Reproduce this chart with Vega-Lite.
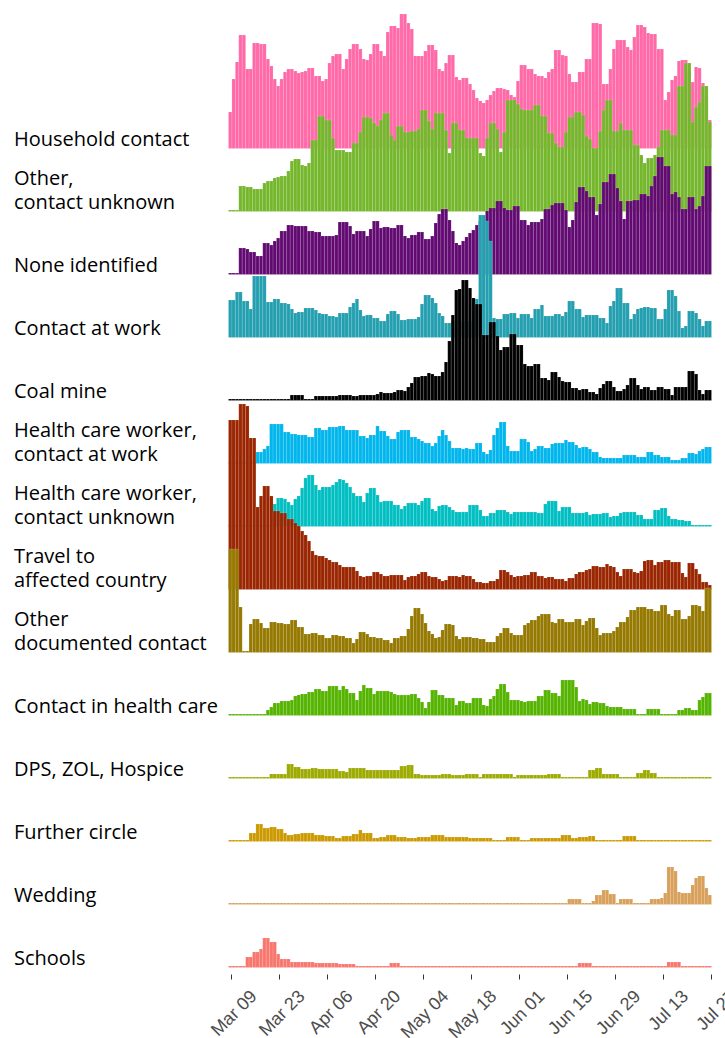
{
"$schema": "https://vega.github.io/schema/vega-lite/v6.json",
"padding": {"left": 14, "top": 13, "right": 10, "bottom": 0},
"datasets": {
"labels": [
{"k":"a","label":"Household contact"},
{"k":"b","label":"Other,\ncontact unknown"},
{"k":"c","label":"None identified"},
{"k":"d","label":"Contact at work"},
{"k":"e","label":"Coal mine"},
{"k":"f","label":"Health care worker,\ncontact at work"},
{"k":"g","label":"Health care worker,\ncontact unknown"},
{"k":"h","label":"Travel to\naffected country"},
{"k":"i","label":"Other\ndocumented contact"},
{"k":"j","label":"Contact in health care"},
{"k":"k","label":"DPS, ZOL, Hospice"},
{"k":"l","label":"Further circle"},
{"k":"m","label":"Wedding"},
{"k":"n","label":"Schools"}
],
"daily": [
{"date":"2020-03-08","a":35,"b":0,"c":0,"d":36,"e":0,"f":0,"g":0,"h":168,"i":102,"j":0,"k":0,"l":0,"m":0,"n":0},
{"date":"2020-03-09","a":68,"b":0,"c":0,"d":36,"e":0,"f":0,"g":0,"h":168,"i":102,"j":0,"k":0,"l":0,"m":0,"n":0},
{"date":"2020-03-10","a":85,"b":0,"c":0,"d":44,"e":0,"f":0,"g":0,"h":168,"i":102,"j":0,"k":0,"l":0,"m":0,"n":0},
{"date":"2020-03-11","a":112,"b":24,"c":25,"d":44,"e":0,"f":0,"g":0,"h":184,"i":44,"j":0,"k":0,"l":0,"m":0,"n":0},
{"date":"2020-03-12","a":112,"b":24,"c":25,"d":35,"e":0,"f":0,"g":0,"h":184,"i":0,"j":0,"k":0,"l":0,"m":0,"n":0},
{"date":"2020-03-13","a":78,"b":23,"c":24,"d":35,"e":0,"f":0,"g":0,"h":182,"i":0,"j":0,"k":0,"l":0,"m":0,"n":9},
{"date":"2020-03-14","a":78,"b":23,"c":21,"d":27,"e":0,"f":0,"g":0,"h":150,"i":27,"j":0,"k":0,"l":7,"m":0,"n":9},
{"date":"2020-03-15","a":104,"b":21,"c":21,"d":60,"e":0,"f":0,"g":0,"h":150,"i":32,"j":0,"k":0,"l":7,"m":0,"n":14},
{"date":"2020-03-16","a":104,"b":21,"c":17,"d":60,"e":0,"f":10,"g":0,"h":81,"i":32,"j":0,"k":0,"l":16,"m":0,"n":14},
{"date":"2020-03-17","a":103,"b":21,"c":17,"d":60,"e":0,"f":10,"g":0,"h":92,"i":28,"j":0,"k":0,"l":16,"m":0,"n":17},
{"date":"2020-03-18","a":103,"b":27,"c":30,"d":60,"e":0,"f":13,"g":0,"h":102,"i":23,"j":0,"k":0,"l":12,"m":0,"n":28},
{"date":"2020-03-19","a":88,"b":29,"c":30,"d":34,"e":0,"f":16,"g":0,"h":102,"i":23,"j":4,"k":0,"l":12,"m":0,"n":28},
{"date":"2020-03-20","a":81,"b":29,"c":28,"d":34,"e":0,"f":38,"g":0,"h":92,"i":29,"j":7,"k":3,"l":13,"m":0,"n":24},
{"date":"2020-03-21","a":68,"b":32,"c":32,"d":37,"e":0,"f":38,"g":21,"h":77,"i":29,"j":11,"k":3,"l":13,"m":0,"n":24},
{"date":"2020-03-22","a":61,"b":33,"c":35,"d":37,"e":0,"f":38,"g":27,"h":77,"i":28,"j":11,"k":3,"l":11,"m":0,"n":12},
{"date":"2020-03-23","a":68,"b":34,"c":42,"d":33,"e":0,"f":38,"g":27,"h":75,"i":28,"j":13,"k":3,"l":11,"m":0,"n":7},
{"date":"2020-03-24","a":75,"b":34,"c":42,"d":33,"e":0,"f":30,"g":26,"h":75,"i":27,"j":13,"k":3,"l":7,"m":0,"n":7},
{"date":"2020-03-25","a":78,"b":39,"c":48,"d":32,"e":0,"f":30,"g":23,"h":69,"i":27,"j":13,"k":13,"l":5,"m":0,"n":7},
{"date":"2020-03-26","a":78,"b":49,"c":48,"d":27,"e":4,"f":28,"g":20,"h":69,"i":31,"j":14,"k":13,"l":5,"m":0,"n":4},
{"date":"2020-03-27","a":76,"b":51,"c":47,"d":23,"e":4,"f":28,"g":26,"h":65,"i":31,"j":18,"k":10,"l":6,"m":0,"n":4},
{"date":"2020-03-28","a":74,"b":51,"c":47,"d":24,"e":4,"f":27,"g":29,"h":62,"i":24,"j":19,"k":10,"l":6,"m":0,"n":4},
{"date":"2020-03-29","a":75,"b":45,"c":47,"d":24,"e":4,"f":27,"g":37,"h":57,"i":24,"j":20,"k":8,"l":7,"m":0,"n":4},
{"date":"2020-03-30","a":76,"b":44,"c":47,"d":28,"e":0,"f":27,"g":47,"h":53,"i":17,"j":20,"k":8,"l":7,"m":0,"n":4},
{"date":"2020-03-31","a":79,"b":47,"c":42,"d":28,"e":0,"f":25,"g":50,"h":47,"i":17,"j":22,"k":8,"l":7,"m":0,"n":4},
{"date":"2020-04-01","a":79,"b":70,"c":42,"d":28,"e":0,"f":25,"g":50,"h":37,"i":18,"j":22,"k":9,"l":7,"m":0,"n":4},
{"date":"2020-04-02","a":71,"b":70,"c":41,"d":26,"e":3,"f":34,"g":40,"h":33,"i":18,"j":25,"k":9,"l":5,"m":0,"n":3},
{"date":"2020-04-03","a":71,"b":94,"c":41,"d":23,"e":3,"f":34,"g":35,"h":32,"i":16,"j":25,"k":8,"l":5,"m":0,"n":3},
{"date":"2020-04-04","a":66,"b":94,"c":37,"d":22,"e":3,"f":32,"g":38,"h":32,"i":16,"j":23,"k":8,"l":5,"m":0,"n":3},
{"date":"2020-04-05","a":68,"b":90,"c":37,"d":22,"e":3,"f":32,"g":38,"h":30,"i":13,"j":23,"k":8,"l":4,"m":0,"n":3},
{"date":"2020-04-06","a":84,"b":90,"c":37,"d":20,"e":3,"f":35,"g":38,"h":28,"i":13,"j":28,"k":8,"l":4,"m":0,"n":3},
{"date":"2020-04-07","a":91,"b":72,"c":37,"d":20,"e":3,"f":35,"g":40,"h":26,"i":16,"j":28,"k":8,"l":4,"m":0,"n":3},
{"date":"2020-04-08","a":93,"b":60,"c":38,"d":19,"e":3,"f":35,"g":43,"h":26,"i":16,"j":28,"k":8,"l":2,"m":0,"n":3},
{"date":"2020-04-09","a":93,"b":60,"c":51,"d":23,"e":4,"f":36,"g":46,"h":23,"i":15,"j":24,"k":6,"l":2,"m":0,"n":2},
{"date":"2020-04-10","a":78,"b":60,"c":51,"d":23,"e":4,"f":36,"g":45,"h":21,"i":15,"j":28,"k":6,"l":4,"m":0,"n":2},
{"date":"2020-04-11","a":88,"b":58,"c":51,"d":23,"e":4,"f":32,"g":42,"h":21,"i":13,"j":25,"k":5,"l":4,"m":0,"n":2},
{"date":"2020-04-12","a":98,"b":58,"c":47,"d":29,"e":4,"f":32,"g":38,"h":21,"i":13,"j":21,"k":9,"l":4,"m":0,"n":2},
{"date":"2020-04-13","a":103,"b":67,"c":39,"d":33,"e":3,"f":32,"g":32,"h":21,"i":8,"j":21,"k":9,"l":6,"m":0,"n":2},
{"date":"2020-04-14","a":103,"b":67,"c":42,"d":37,"e":3,"f":32,"g":29,"h":17,"i":12,"j":14,"k":9,"l":6,"m":0,"n":0},
{"date":"2020-04-15","a":98,"b":78,"c":42,"d":26,"e":4,"f":26,"g":29,"h":12,"i":19,"j":23,"k":9,"l":10,"m":0,"n":0},
{"date":"2020-04-16","a":88,"b":93,"c":42,"d":20,"e":4,"f":26,"g":23,"h":11,"i":19,"j":29,"k":9,"l":7,"m":0,"n":0},
{"date":"2020-04-17","a":87,"b":93,"c":37,"d":21,"e":4,"f":24,"g":32,"h":12,"i":17,"j":26,"k":7,"l":7,"m":0,"n":0},
{"date":"2020-04-18","a":93,"b":92,"c":44,"d":21,"e":4,"f":27,"g":37,"h":12,"i":14,"j":26,"k":7,"l":7,"m":0,"n":0},
{"date":"2020-04-19","a":103,"b":87,"c":52,"d":18,"e":4,"f":27,"g":37,"h":16,"i":14,"j":20,"k":7,"l":2,"m":0,"n":0},
{"date":"2020-04-20","a":103,"b":84,"c":52,"d":18,"e":5,"f":36,"g":30,"h":16,"i":13,"j":23,"k":7,"l":2,"m":0,"n":0},
{"date":"2020-04-21","a":96,"b":90,"c":45,"d":15,"e":7,"f":31,"g":23,"h":14,"i":13,"j":23,"k":7,"l":3,"m":0,"n":0},
{"date":"2020-04-22","a":91,"b":97,"c":46,"d":15,"e":6,"f":31,"g":24,"h":12,"i":11,"j":23,"k":7,"l":3,"m":0,"n":0},
{"date":"2020-04-23","a":115,"b":97,"c":46,"d":22,"e":6,"f":26,"g":24,"h":12,"i":11,"j":23,"k":7,"l":5,"m":0,"n":0},
{"date":"2020-04-24","a":121,"b":75,"c":45,"d":25,"e":6,"f":23,"g":24,"h":13,"i":8,"j":22,"k":7,"l":5,"m":0,"n":3},
{"date":"2020-04-25","a":121,"b":70,"c":45,"d":25,"e":7,"f":23,"g":20,"h":13,"i":13,"j":20,"k":7,"l":5,"m":0,"n":3},
{"date":"2020-04-26","a":119,"b":84,"c":48,"d":22,"e":9,"f":30,"g":20,"h":13,"i":13,"j":19,"k":7,"l":3,"m":0,"n":3},
{"date":"2020-04-27","a":133,"b":84,"c":48,"d":16,"e":9,"f":32,"g":16,"h":13,"i":15,"j":19,"k":11,"l":3,"m":0,"n":0},
{"date":"2020-04-28","a":133,"b":78,"c":37,"d":16,"e":8,"f":32,"g":19,"h":8,"i":15,"j":19,"k":11,"l":3,"m":0,"n":0},
{"date":"2020-04-29","a":124,"b":78,"c":35,"d":17,"e":12,"f":32,"g":22,"h":11,"i":22,"j":19,"k":12,"l":2,"m":0,"n":0},
{"date":"2020-04-30","a":118,"b":79,"c":38,"d":17,"e":16,"f":25,"g":22,"h":12,"i":35,"j":20,"k":12,"l":2,"m":0,"n":0},
{"date":"2020-05-01","a":91,"b":79,"c":38,"d":17,"e":22,"f":25,"g":22,"h":12,"i":43,"j":20,"k":3,"l":2,"m":0,"n":0},
{"date":"2020-05-02","a":91,"b":81,"c":41,"d":19,"e":22,"f":23,"g":20,"h":14,"i":43,"j":16,"k":3,"l":3,"m":0,"n":0},
{"date":"2020-05-03","a":91,"b":100,"c":41,"d":32,"e":23,"f":21,"g":24,"h":16,"i":37,"j":12,"k":2,"l":3,"m":0,"n":0},
{"date":"2020-05-04","a":96,"b":100,"c":34,"d":41,"e":23,"f":19,"g":27,"h":16,"i":28,"j":6,"k":2,"l":3,"m":0,"n":0},
{"date":"2020-05-05","a":102,"b":89,"c":34,"d":41,"e":26,"f":19,"g":27,"h":12,"i":20,"j":12,"k":2,"l":3,"m":0,"n":0},
{"date":"2020-05-06","a":102,"b":81,"c":37,"d":38,"e":25,"f":16,"g":16,"h":11,"i":17,"j":24,"k":2,"l":5,"m":0,"n":0},
{"date":"2020-05-07","a":97,"b":97,"c":50,"d":33,"e":23,"f":19,"g":14,"h":11,"i":13,"j":24,"k":2,"l":5,"m":0,"n":0},
{"date":"2020-05-08","a":78,"b":97,"c":59,"d":23,"e":23,"f":26,"g":19,"h":9,"i":14,"j":19,"k":2,"l":5,"m":0,"n":0},
{"date":"2020-05-09","a":76,"b":97,"c":64,"d":20,"e":27,"f":32,"g":20,"h":7,"i":21,"j":19,"k":3,"l":5,"m":0,"n":0},
{"date":"2020-05-10","a":84,"b":80,"c":64,"d":13,"e":37,"f":27,"g":20,"h":8,"i":27,"j":16,"k":3,"l":3,"m":0,"n":0},
{"date":"2020-05-11","a":92,"b":57,"c":53,"d":13,"e":58,"f":21,"g":18,"h":12,"i":27,"j":16,"k":3,"l":3,"m":0,"n":0},
{"date":"2020-05-12","a":92,"b":87,"c":42,"d":15,"e":84,"f":14,"g":15,"h":12,"i":26,"j":16,"k":2,"l":3,"m":0,"n":0},
{"date":"2020-05-13","a":70,"b":87,"c":30,"d":15,"e":109,"f":14,"g":13,"h":12,"i":15,"j":9,"k":2,"l":3,"m":0,"n":0},
{"date":"2020-05-14","a":67,"b":80,"c":28,"d":15,"e":110,"f":14,"g":13,"h":11,"i":12,"j":13,"k":2,"l":3,"m":0,"n":0},
{"date":"2020-05-15","a":69,"b":80,"c":32,"d":15,"e":119,"f":13,"g":13,"h":13,"i":14,"j":13,"k":2,"l":3,"m":0,"n":0},
{"date":"2020-05-16","a":69,"b":72,"c":36,"d":15,"e":119,"f":14,"g":13,"h":12,"i":14,"j":11,"k":3,"l":3,"m":0,"n":0},
{"date":"2020-05-17","a":63,"b":72,"c":40,"d":15,"e":111,"f":13,"g":20,"h":12,"i":14,"j":11,"k":3,"l":2,"m":0,"n":0},
{"date":"2020-05-18","a":57,"b":72,"c":43,"d":15,"e":101,"f":13,"g":20,"h":9,"i":13,"j":16,"k":3,"l":2,"m":0,"n":0},
{"date":"2020-05-19","a":49,"b":72,"c":48,"d":37,"e":95,"f":19,"g":20,"h":6,"i":13,"j":16,"k":3,"l":2,"m":0,"n":0},
{"date":"2020-05-20","a":46,"b":57,"c":52,"d":121,"e":95,"f":19,"g":15,"h":6,"i":12,"j":16,"k":0,"l":2,"m":0,"n":0},
{"date":"2020-05-21","a":44,"b":54,"c":58,"d":121,"e":64,"f":10,"g":9,"h":5,"i":12,"j":9,"k":3,"l":2,"m":0,"n":0},
{"date":"2020-05-22","a":47,"b":72,"c":62,"d":115,"e":64,"f":8,"g":9,"h":5,"i":9,"j":8,"k":3,"l":2,"m":0,"n":0},
{"date":"2020-05-23","a":52,"b":87,"c":65,"d":95,"e":77,"f":12,"g":12,"h":7,"i":9,"j":15,"k":3,"l":2,"m":0,"n":0},
{"date":"2020-05-24","a":56,"b":87,"c":65,"d":18,"e":77,"f":27,"g":12,"h":7,"i":9,"j":18,"k":3,"l":0,"m":0,"n":0},
{"date":"2020-05-25","a":59,"b":81,"c":72,"d":17,"e":63,"f":34,"g":15,"h":9,"i":15,"j":25,"k":3,"l":0,"m":0,"n":0},
{"date":"2020-05-26","a":59,"b":58,"c":72,"d":17,"e":49,"f":40,"g":15,"h":18,"i":18,"j":30,"k":3,"l":0,"m":0,"n":0},
{"date":"2020-05-27","a":58,"b":78,"c":65,"d":22,"e":52,"f":40,"g":15,"h":18,"i":23,"j":30,"k":3,"l":0,"m":0,"n":0},
{"date":"2020-05-28","a":57,"b":110,"c":63,"d":22,"e":52,"f":16,"g":13,"h":16,"i":23,"j":22,"k":3,"l":3,"m":0,"n":0},
{"date":"2020-05-29","a":52,"b":110,"c":63,"d":23,"e":65,"f":11,"g":11,"h":13,"i":18,"j":14,"k":3,"l":3,"m":0,"n":0},
{"date":"2020-05-30","a":50,"b":110,"c":67,"d":23,"e":65,"f":11,"g":13,"h":11,"i":16,"j":14,"k":0,"l":3,"m":0,"n":0},
{"date":"2020-05-31","a":66,"b":106,"c":67,"d":18,"e":54,"f":11,"g":13,"h":12,"i":16,"j":14,"k":2,"l":3,"m":0,"n":0},
{"date":"2020-06-01","a":82,"b":101,"c":53,"d":22,"e":54,"f":23,"g":13,"h":12,"i":16,"j":13,"k":2,"l":0,"m":0,"n":0},
{"date":"2020-06-02","a":82,"b":100,"c":53,"d":22,"e":35,"f":23,"g":13,"h":13,"i":26,"j":12,"k":2,"l":0,"m":0,"n":0},
{"date":"2020-06-03","a":78,"b":100,"c":48,"d":22,"e":33,"f":20,"g":13,"h":13,"i":28,"j":13,"k":2,"l":0,"m":0,"n":0},
{"date":"2020-06-04","a":78,"b":100,"c":51,"d":18,"e":33,"f":11,"g":13,"h":16,"i":31,"j":13,"k":2,"l":2,"m":0,"n":0},
{"date":"2020-06-05","a":73,"b":105,"c":51,"d":27,"e":35,"f":13,"g":13,"h":16,"i":31,"j":13,"k":2,"l":2,"m":0,"n":0},
{"date":"2020-06-06","a":71,"b":105,"c":51,"d":27,"e":35,"f":16,"g":12,"h":12,"i":35,"j":18,"k":2,"l":2,"m":0,"n":0},
{"date":"2020-06-07","a":71,"b":94,"c":54,"d":31,"e":21,"f":16,"g":12,"h":12,"i":37,"j":18,"k":2,"l":2,"m":0,"n":0},
{"date":"2020-06-08","a":69,"b":94,"c":64,"d":20,"e":21,"f":14,"g":21,"h":10,"i":37,"j":24,"k":2,"l":2,"m":0,"n":0},
{"date":"2020-06-09","a":75,"b":77,"c":64,"d":20,"e":19,"f":14,"g":24,"h":11,"i":37,"j":24,"k":3,"l":2,"m":0,"n":0},
{"date":"2020-06-10","a":78,"b":77,"c":68,"d":20,"e":27,"f":18,"g":24,"h":11,"i":29,"j":21,"k":3,"l":2,"m":0,"n":0},
{"date":"2020-06-11","a":97,"b":67,"c":70,"d":22,"e":27,"f":19,"g":24,"h":9,"i":28,"j":21,"k":3,"l":2,"m":0,"n":0},
{"date":"2020-06-12","a":97,"b":63,"c":70,"d":22,"e":22,"f":19,"g":14,"h":9,"i":32,"j":18,"k":3,"l":2,"m":0,"n":0},
{"date":"2020-06-13","a":92,"b":63,"c":70,"d":20,"e":18,"f":19,"g":18,"h":9,"i":32,"j":34,"k":0,"l":5,"m":0,"n":0},
{"date":"2020-06-14","a":91,"b":78,"c":63,"d":24,"e":17,"f":22,"g":18,"h":7,"i":29,"j":34,"k":0,"l":5,"m":0,"n":0},
{"date":"2020-06-15","a":73,"b":93,"c":46,"d":35,"e":17,"f":20,"g":18,"h":10,"i":29,"j":34,"k":0,"l":5,"m":4,"n":0},
{"date":"2020-06-16","a":65,"b":93,"c":53,"d":35,"e":11,"f":20,"g":12,"h":10,"i":29,"j":34,"k":0,"l":2,"m":4,"n":0},
{"date":"2020-06-17","a":65,"b":98,"c":71,"d":27,"e":11,"f":17,"g":12,"h":14,"i":32,"j":27,"k":0,"l":2,"m":4,"n":0},
{"date":"2020-06-18","a":75,"b":98,"c":86,"d":27,"e":9,"f":14,"g":12,"h":16,"i":32,"j":13,"k":0,"l":3,"m":4,"n":3},
{"date":"2020-06-19","a":75,"b":95,"c":86,"d":19,"e":10,"f":15,"g":12,"h":16,"i":26,"j":15,"k":0,"l":3,"m":0,"n":3},
{"date":"2020-06-20","a":88,"b":74,"c":82,"d":21,"e":10,"f":15,"g":13,"h":18,"i":30,"j":14,"k":0,"l":3,"m":0,"n":3},
{"date":"2020-06-21","a":88,"b":71,"c":76,"d":21,"e":7,"f":13,"g":10,"h":19,"i":33,"j":10,"k":7,"l":4,"m":0,"n":3},
{"date":"2020-06-22","a":124,"b":62,"c":76,"d":21,"e":7,"f":10,"g":11,"h":22,"i":33,"j":12,"k":7,"l":4,"m":2,"n":0},
{"date":"2020-06-23","a":124,"b":62,"c":58,"d":21,"e":5,"f":10,"g":11,"h":22,"i":23,"j":12,"k":9,"l":0,"m":8,"n":0},
{"date":"2020-06-24","a":123,"b":79,"c":69,"d":18,"e":11,"f":5,"g":11,"h":21,"i":16,"j":11,"k":9,"l":0,"m":8,"n":0},
{"date":"2020-06-25","a":63,"b":100,"c":91,"d":18,"e":15,"f":4,"g":12,"h":21,"i":18,"j":11,"k":3,"l":0,"m":13,"n":0},
{"date":"2020-06-26","a":63,"b":110,"c":91,"d":13,"e":18,"f":4,"g":12,"h":24,"i":18,"j":8,"k":3,"l":0,"m":13,"n":0},
{"date":"2020-06-27","a":78,"b":110,"c":99,"d":30,"e":18,"f":4,"g":8,"h":22,"i":18,"j":7,"k":3,"l":0,"m":9,"n":0},
{"date":"2020-06-28","a":98,"b":79,"c":99,"d":35,"e":12,"f":4,"g":9,"h":21,"i":20,"j":7,"k":3,"l":0,"m":9,"n":0},
{"date":"2020-06-29","a":107,"b":79,"c":85,"d":48,"e":8,"f":4,"g":9,"h":16,"i":24,"j":7,"k":3,"l":0,"m":0,"n":0},
{"date":"2020-06-30","a":107,"b":87,"c":72,"d":48,"e":8,"f":4,"g":12,"h":12,"i":29,"j":7,"k":0,"l":0,"m":4,"n":0},
{"date":"2020-07-01","a":107,"b":80,"c":54,"d":33,"e":10,"f":7,"g":13,"h":19,"i":29,"j":5,"k":0,"l":4,"m":4,"n":0},
{"date":"2020-07-02","a":100,"b":80,"c":72,"d":33,"e":14,"f":7,"g":13,"h":19,"i":34,"j":5,"k":0,"l":4,"m":4,"n":0},
{"date":"2020-07-03","a":97,"b":80,"c":72,"d":17,"e":21,"f":7,"g":13,"h":19,"i":41,"j":5,"k":0,"l":4,"m":4,"n":0},
{"date":"2020-07-04","a":110,"b":65,"c":73,"d":22,"e":21,"f":7,"g":13,"h":16,"i":41,"j":5,"k":0,"l":4,"m":0,"n":0},
{"date":"2020-07-05","a":122,"b":65,"c":73,"d":27,"e":14,"f":5,"g":10,"h":15,"i":44,"j":0,"k":4,"l":0,"m":0,"n":0},
{"date":"2020-07-06","a":122,"b":55,"c":79,"d":28,"e":10,"f":5,"g":10,"h":17,"i":44,"j":0,"k":4,"l":0,"m":0,"n":0},
{"date":"2020-07-07","a":120,"b":47,"c":79,"d":29,"e":12,"f":5,"g":6,"h":27,"i":44,"j":0,"k":7,"l":0,"m":0,"n":0},
{"date":"2020-07-08","a":114,"b":52,"c":77,"d":29,"e":12,"f":10,"g":6,"h":28,"i":42,"j":5,"k":7,"l":0,"m":0,"n":0},
{"date":"2020-07-09","a":113,"b":52,"c":87,"d":28,"e":9,"f":10,"g":6,"h":28,"i":42,"j":5,"k":4,"l":0,"m":4,"n":0},
{"date":"2020-07-10","a":113,"b":55,"c":97,"d":28,"e":9,"f":7,"g":15,"h":23,"i":40,"j":5,"k":4,"l":0,"m":4,"n":0},
{"date":"2020-07-11","a":98,"b":63,"c":116,"d":17,"e":12,"f":7,"g":15,"h":26,"i":40,"j":5,"k":0,"l":0,"m":4,"n":0},
{"date":"2020-07-12","a":98,"b":80,"c":116,"d":17,"e":12,"f":5,"g":17,"h":26,"i":46,"j":0,"k":0,"l":0,"m":5,"n":0},
{"date":"2020-07-13","a":47,"b":80,"c":107,"d":27,"e":10,"f":5,"g":17,"h":28,"i":46,"j":0,"k":0,"l":0,"m":10,"n":0},
{"date":"2020-07-14","a":55,"b":80,"c":107,"d":46,"e":10,"f":5,"g":9,"h":28,"i":37,"j":0,"k":0,"l":0,"m":36,"n":4},
{"date":"2020-07-15","a":67,"b":75,"c":79,"d":46,"e":4,"f":2,"g":6,"h":26,"i":35,"j":0,"k":0,"l":0,"m":36,"n":4},
{"date":"2020-07-16","a":71,"b":75,"c":81,"d":40,"e":12,"f":2,"g":6,"h":26,"i":41,"j":0,"k":0,"l":0,"m":32,"n":4},
{"date":"2020-07-17","a":86,"b":124,"c":76,"d":25,"e":12,"f":2,"g":5,"h":26,"i":41,"j":4,"k":0,"l":0,"m":11,"n":4},
{"date":"2020-07-18","a":87,"b":124,"c":64,"d":8,"e":12,"f":4,"g":5,"h":15,"i":32,"j":4,"k":0,"l":0,"m":10,"n":0},
{"date":"2020-07-19","a":87,"b":147,"c":64,"d":10,"e":12,"f":4,"g":4,"h":11,"i":32,"j":6,"k":0,"l":0,"m":10,"n":0},
{"date":"2020-07-20","a":78,"b":147,"c":76,"d":25,"e":28,"f":9,"g":4,"h":25,"i":35,"j":6,"k":0,"l":0,"m":10,"n":0},
{"date":"2020-07-21","a":65,"b":88,"c":76,"d":25,"e":28,"f":9,"g":0,"h":25,"i":46,"j":4,"k":0,"l":0,"m":18,"n":0},
{"date":"2020-07-22","a":80,"b":103,"c":64,"d":23,"e":25,"f":8,"g":0,"h":19,"i":46,"j":4,"k":0,"l":0,"m":25,"n":0},
{"date":"2020-07-23","a":79,"b":108,"c":67,"d":17,"e":9,"f":11,"g":0,"h":14,"i":45,"j":14,"k":0,"l":0,"m":27,"n":0},
{"date":"2020-07-24","a":64,"b":124,"c":77,"d":10,"e":5,"f":13,"g":0,"h":6,"i":40,"j":17,"k":0,"l":0,"m":27,"n":0},
{"date":"2020-07-25","a":50,"b":124,"c":107,"d":15,"e":9,"f":15,"g":0,"h":6,"i":63,"j":21,"k":0,"l":0,"m":15,"n":0},
{"date":"2020-07-26","a":27,"b":88,"c":107,"d":15,"e":9,"f":15,"g":0,"h":3,"i":63,"j":21,"k":0,"l":0,"m":8,"n":0}
]
},
"data": {"name": "daily"},
"transform": [
{"fold": ["a","b","c","d","e","f","g","h","i","j","k","l","m","n"], "as": ["k","v"]},
{"lookup": "k", "from": {"data": {"name": "labels"}, "key": "k", "fields": ["label"]}}
],
"facet": {
"row": {
"field": "k", "type": "nominal", "title": null, "sort": "ascending",
"header": {"labels": false, "title": null}
}
},
"spacing": 0,
"bounds": "flush",
"spec": {
"width": 483,
"height": 63,
"layer": [
{
"mark": {"type": "bar", "stroke": "#ffffff", "strokeWidth": 0.4, "strokeOpacity": 0.3, "binSpacing": 0},
"encoding": {
"x": {"field": "date", "type": "temporal", "timeUnit": "utcyearmonthdate",
"scale": {"domain": [{"year": 2020, "month": 3, "date": 8, "utc": true}, {"year": 2020, "month": 7, "date": 27, "utc": true}], "nice": false},
"axis": {"title": null, "values": [
{"year": 2020, "month": 3, "date": 9, "utc": true},
{"year": 2020, "month": 3, "date": 23, "utc": true},
{"year": 2020, "month": 4, "date": 6, "utc": true},
{"year": 2020, "month": 4, "date": 20, "utc": true},
{"year": 2020, "month": 5, "date": 4, "utc": true},
{"year": 2020, "month": 5, "date": 18, "utc": true},
{"year": 2020, "month": 6, "date": 1, "utc": true},
{"year": 2020, "month": 6, "date": 15, "utc": true},
{"year": 2020, "month": 6, "date": 29, "utc": true},
{"year": 2020, "month": 7, "date": 13, "utc": true},
{"year": 2020, "month": 7, "date": 27, "utc": true}],
"labelExpr": "utcFormat(datum.value, '%b %d')", "labelAngle": -45, "labelAlign": "right", "labelBaseline": "top", "labelFont": "Liberation Sans", "labelFontSize": 18, "labelColor": "#4d4d4d", "domain": false, "grid": false, "ticks": true, "tickColor": "#333333", "tickSize": 5, "tickWidth": 1, "offset": 8, "labelPadding": 8, "labelOffset": 16, "labelOverlap": false, "labelFlush": false, "labelBound": false}},
"y": {"field": "v", "type": "quantitative", "scale": {"domain": [0, 100], "range": [63, -37], "nice": false, "zero": true}, "axis": null},
"y2": {"datum": -1.5},
"fill": {"field": "k", "type": "nominal", "legend": null,
"scale": {"domain": ["a","b","c","d","e","f","g","h","i","j","k","l","m","n"],
"range": ["#FF69A8","#75B72C","#620A72","#239FB0","#000000","#00B6EC","#00BFC2","#9A2500","#957900","#55B400","#9DAA00","#CC9A00","#D8A05A","#F8766D"]}}
}
},
{
"transform": [{"aggregate": [{"op": "count", "as": "n"}], "groupby": ["label"]}],
"mark": {"type": "text", "align": "left", "baseline": "alphabetic", "dx": -214, "dy": {"expr": "indexof(datum.label, '\\n') >= 0 ? -25 : -1"}, "lineBreak": "\n", "lineHeight": 24, "font": "Open Sans", "fontSize": 20, "color": "#000000"},
"encoding": {
"x": {"datum": {"year": 2020, "month": 3, "date": 8, "utc": true}, "type": "temporal"},
"y": {"datum": 0, "type": "quantitative"},
"text": {"field": "label", "type": "nominal"}
}
}
]
},
"config": {"view": {"stroke": null}}
}
